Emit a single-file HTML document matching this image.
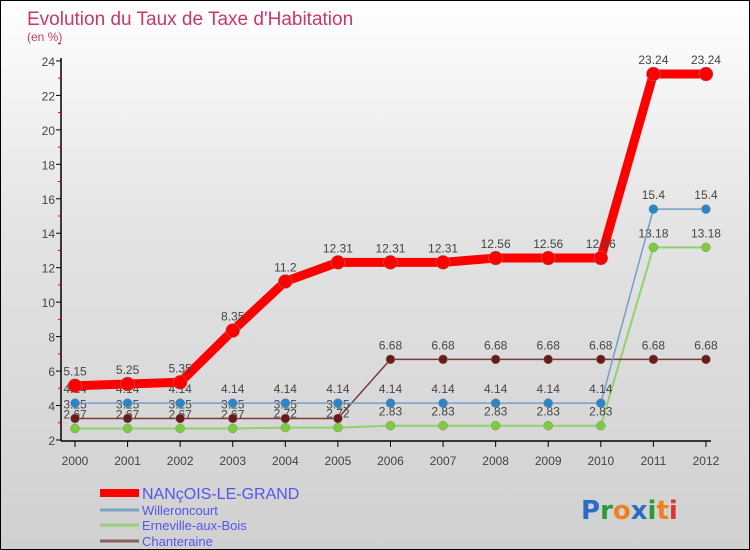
<!DOCTYPE html>
<html><head><meta charset="utf-8"><style>
body{margin:0}
#wrap{width:748px;height:548px;border:1px solid #000;background:linear-gradient(#fff,#e4e4e4 40%,#d0d0d0);position:relative;overflow:hidden;font-family:"Liberation Sans",sans-serif}
</style></head><body>
<div id="wrap">
<svg id="chart" width="748" height="548"></svg>
</div>
<script>
const years=[2000,2001,2002,2003,2004,2005,2006,2007,2008,2009,2010,2011,2012];
const nancois=[5.15,5.25,5.35,8.35,11.2,12.31,12.31,12.31,12.56,12.56,12.56,23.24,23.24];
const willeroncourt=[4.14,4.14,4.14,4.14,4.14,4.14,4.14,4.14,4.14,4.14,4.14,15.4,15.4];
const erneville=[2.67,2.67,2.67,2.67,2.72,2.72,2.83,2.83,2.83,2.83,2.83,13.18,13.18];
const chanteraine=[3.25,3.25,3.25,3.25,3.25,3.25,6.68,6.68,6.68,6.68,6.68,6.68,6.68];
const yTicks=[2,4,6,8,10,12,14,16,18,20,22,24];
const NS='http://www.w3.org/2000/svg';
const svg=document.getElementById('chart');
const X=y=>74+(y-2000)*52.58;
const Y=v=>439-(v-2)*17.23;
function mk(t,a,p){const e=document.createElementNS(NS,t);for(const k in a)e.setAttribute(k,a[k]);(p||svg).appendChild(e);return e;}
function txt(x,y,s,a){const e=mk('text',Object.assign({x:x,y:y},a));e.textContent=s;return e;}
let t;
t=txt(26,24,"Evolution du Taux de Taxe d'Habitation",{fill:'#c8386a','font-size':19});

t=txt(26,40,"(en %)",{fill:'#c8386a','font-size':12});

// axes
let ax=mk('line',{x1:60,y1:57,x2:60,y2:440,stroke:'#000','stroke-width':1.5});

ax=mk('line',{x1:60,y1:440,x2:710,y2:440,stroke:'#000','stroke-width':1.5});

yTicks.forEach(v=>{
 mk('line',{x1:55,y1:Y(v),x2:60,y2:Y(v),stroke:'#000'});
 mk('line',{x1:57,y1:Y(v+1),x2:60,y2:Y(v+1),stroke:'#e00'});
 const l=txt(54,Y(v)+5,String(v),{fill:'#444','font-size':12,'text-anchor':'end'});
 
});
years.forEach(y=>{
 mk('line',{x1:X(y),y1:440,x2:X(y),y2:446,stroke:'#000'});
 const l=txt(X(y),464,String(y),{fill:'#444','font-size':12,'text-anchor':'middle'});
 
});
function series(vals,col,w,r,name,dot){
 const g=mk('g',{});
 
 mk('polyline',{points:vals.map((v,i)=>X(years[i])+','+Y(v)).join(' '),fill:'none',stroke:col,'stroke-width':w,'stroke-linejoin':'round'},g);
 vals.forEach((v,i)=>{
  const c=mk('circle',{cx:X(years[i]),cy:Y(v),r:r,fill:dot,stroke:'#888','stroke-width':0.5},g);
  
  const l=txt(X(years[i]),Y(v)-10,String(v),{fill:'#444','font-size':12,'text-anchor':'middle'},g);
  
 });
}
series(erneville,'#8fd36c',2,4.5,'erneville','#7ccd3c');
series(chanteraine,'#7a3a3a',1.5,4.5,'chanteraine','#6b1a1a');
series(willeroncourt,'#6fa0cc',1.5,4.5,'willeroncourt','#2a86cc');
series(nancois,'#f00',9,7,'nancois','#f00');
// legend
const leg=[['NANçOIS-LE-GRAND','#f00',8,16],['Willeroncourt','#7aa4c4',3,13],['Erneville-aux-Bois','#99d07a',3,13],['Chanteraine','#8a6060',3,13]];
const ly=[492,509,524,540];
leg.forEach((d,i)=>{
 const g=mk('g',{});
 
 mk('line',{x1:99,y1:ly[i],x2:138,y2:ly[i],stroke:d[1],'stroke-width':d[2]},g);
 txt(141,ly[i]+(i?5:6),d[0],{fill:'#5555ee','font-size':d[3]},g);
});
const lg=txt(580,518,'',{'font-size':26,'font-family':'DejaVu Sans, sans-serif','font-weight':'bold'});

[['P','#2a6cc4'],['r','#2a9a3a'],['o','#f08020'],['x','#2a6cc4'],['i','#2a9a3a'],['t','#f08020'],['i','#e03030']].forEach(c=>{const s=mk('tspan',{fill:c[1]},lg);s.textContent=c[0];});
</script>
</body></html>
